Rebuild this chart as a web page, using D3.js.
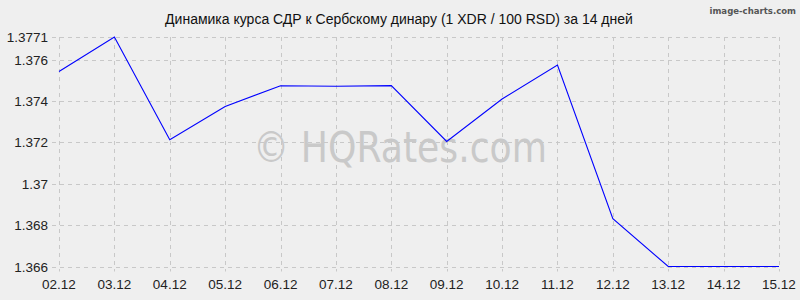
<!DOCTYPE html>
<html>
<head>
<meta charset="utf-8">
<script src="https://cdn.jsdelivr.net/npm/d3@7"></script>
<style>
  body { margin: 0; background: #efefef; }
  svg { display: block; }
</style>
</head>
<body>
<div id="chart"></div>
<script>
const dates = ["02.12", "03.12", "04.12", "05.12", "06.12", "07.12", "08.12", "09.12", "10.12", "11.12", "12.12", "13.12", "14.12", "15.12"];
const rates = [1.37543, 1.3771, 1.37213, 1.37374, 1.37474, 1.37472, 1.37475, 1.37205, 1.3741, 1.37574, 1.36831, 1.366, 1.366, 1.366];
const yTicks = [1.366, 1.368, 1.37, 1.372, 1.374, 1.376, 1.3771];
const yLabels = ["1.366", "1.368", "1.37", "1.372", "1.374", "1.376", "1.3771"];

const width = 800, height = 300;
const plotLeft = 59, plotRight = 779, plotTop = 37, plotBottom = 266.5;

const svg = d3.select("#chart").append("svg")
    .attr("width", width)
    .attr("height", height);

svg.append("rect").attr("width", width).attr("height", height).attr("fill", "#efefef");

const x = d3.scalePoint().domain(dates).range([plotLeft, plotRight]);
const y = d3.scaleLinear().domain([1.366, 1.3771]).range([plotBottom, plotTop]);

// grid
svg.append("g").selectAll("line")
    .data(yTicks)
    .enter().append("line")
    .attr("x1", plotLeft - 7).attr("x2", plotRight)
    .attr("y1", d => Math.round(y(d)) + 0.5).attr("y2", d => Math.round(y(d)) + 0.5)
    .attr("stroke", "#c8c8c8")
    .attr("stroke-dasharray", "4,4");

svg.append("g").selectAll("line")
    .data(dates)
    .enter().append("line")
    .attr("x1", d => Math.round(x(d)) + 0.5).attr("x2", d => Math.round(x(d)) + 0.5)
    .attr("y1", plotTop).attr("y2", plotBottom + 5)
    .attr("stroke", "#c8c8c8")
    .attr("stroke-dasharray", "4,4");

// watermark
svg.append("text")
    .attr("x", 400).attr("y", 162)
    .attr("text-anchor", "middle")
    .attr("font-family", "DejaVu Sans, Verdana, sans-serif")
    .attr("font-size", 42)
    .attr("textLength", 294)
    .attr("lengthAdjust", "spacingAndGlyphs")
    .attr("fill", "#c9c9c9")
    .text("© HQRates.com");

// labels
svg.append("g").selectAll("text")
    .data(yTicks)
    .enter().append("text")
    .attr("x", 48)
    .attr("y", d => y(d) + 5)
    .attr("text-anchor", "end")
    .attr("font-family", "Liberation Sans, Arial, sans-serif")
    .attr("font-size", 13.5)
    .attr("fill", "#222")
    .text((d, i) => yLabels[i]);

svg.append("g").selectAll("text")
    .data(dates)
    .enter().append("text")
    .attr("x", d => x(d))
    .attr("y", 289)
    .attr("text-anchor", "middle")
    .attr("font-family", "Liberation Sans, Arial, sans-serif")
    .attr("font-size", 13.5)
    .attr("fill", "#222")
    .text(d => d);

// line
const line = d3.line()
    .x((d, i) => x(dates[i]))
    .y(d => y(d));

svg.append("path")
    .datum(rates)
    .attr("d", line)
    .attr("fill", "none")
    .attr("stroke", "#0000ff")
    .attr("stroke-width", 1.1);

// title
svg.append("text")
    .attr("x", 399).attr("y", 24)
    .attr("text-anchor", "middle")
    .attr("font-family", "Liberation Sans, Arial, sans-serif")
    .attr("font-size", 14)
    .attr("fill", "#111")
    .text("Динамика курса СДР к Сербскому динару (1 XDR / 100 RSD) за 14 дней");

svg.append("text")
    .attr("x", 796).attr("y", 14)
    .attr("text-anchor", "end")
    .attr("font-family", "DejaVu Sans Condensed, DejaVu Sans, sans-serif")
    .attr("font-weight", "bold")
    .attr("font-size", 9.5)
    .attr("fill", "#555")
    .text("image-charts.com");
</script>
</body>
</html>
